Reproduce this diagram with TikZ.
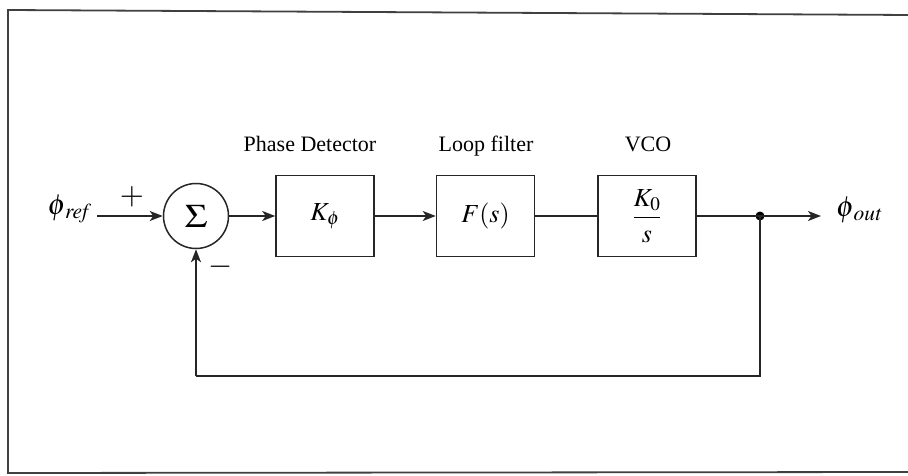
\documentclass[tikz,border=0pt]{standalone}
\usepackage{mathptmx}
\usepackage{fontspec}
\setmainfont{Liberation Serif}
\usetikzlibrary{arrows.meta}
\tikzset{
  wire/.style={line width=1.6pt, draw=black!85},
  arr/.style={wire, -{Stealth[length=13pt,width=10pt,inset=3.5pt]}},
  blockbox/.style={draw=black!85, line width=1.6pt, minimum width=98pt, minimum height=81pt, inner sep=0pt},
  lbl/.style={font=\fontsize{22}{26}\selectfont, inner sep=0pt, anchor=base},
  mth/.style={font=\fontsize{26}{30}\selectfont, inner sep=0pt},
  sgn/.style={font=\fontsize{31}{34}\selectfont, inner sep=0pt},
  frameline/.style={line width=1.8pt, draw=black!75}
}
\begin{document}
\begin{tikzpicture}[x=1pt,y=-1pt]
\useasboundingbox (0,0) rectangle (908,476);
% frame
\coordinate (f1) at (8,10);
\coordinate (f2) at (910,15);
\coordinate (f3) at (8,473);
\coordinate (f4) at (910,472);
\draw[frameline] (f2) -- (f1) -- (f3) -- (f4);

% nodes
\node[draw=black!85, line width=1.5pt, circle, minimum size=65pt, inner sep=0pt] (sum) at (196,216) {\fontsize{33}{38}\selectfont\scalebox{1.15}[1]{$\Sigma$}};
\node[blockbox] (pd) at (325,216) {};
\node[mth] at (pd.center) {$K_\phi$};
\node[blockbox] (lf) at (485.5,216) {};
\node[mth] at (lf.center) {$F(s)$};
\node[blockbox] (vco) at (647,216) {};
\node[mth] at (vco.center) {$\displaystyle\frac{K_0}{s}$};

\node[lbl] (pdl) at (310,152) {Phase Detector};
\node[lbl] (lfl) at (486,152) {Loop filter};
\node[lbl] (vcol) at (648,152) {VCO};

\coordinate (in) at (97,216);
\node[font=\fontsize{29}{32}\selectfont, inner sep=0pt, anchor=east] (phiref) at (92,209) {$\phi_{\,\mathit{ref}}$};
\node[sgn] (plus) at (132,197) {$+$};
\node[sgn] (minus) at (221,267) {$-$};

\node[circle, fill=black, inner sep=0pt, minimum size=9pt] (dot) at (760,216) {};
\coordinate (out) at (821,216);
\node[font=\fontsize{29}{32}\selectfont, inner sep=0pt, anchor=west] (phiout) at (836,210) {$\phi_{\,\mathit{out}}$};
\coordinate (bl) at (196,376);
\coordinate (br) at (760,376);

% connectors
\draw[arr] (in) -- (sum.west);
\draw[arr] (sum.east) -- (pd.west);
\draw[arr] (pd.east) -- (lf.west);
\draw[wire] (lf.east) -- (vco.west);
\draw[wire] (vco.east) -- (dot.center);
\draw[arr] (dot.center) -- (out);
\draw[wire] (dot.center) -- (br) -- (bl);
\draw[arr] (bl) -- (sum.south);
\end{tikzpicture}
\end{document}
